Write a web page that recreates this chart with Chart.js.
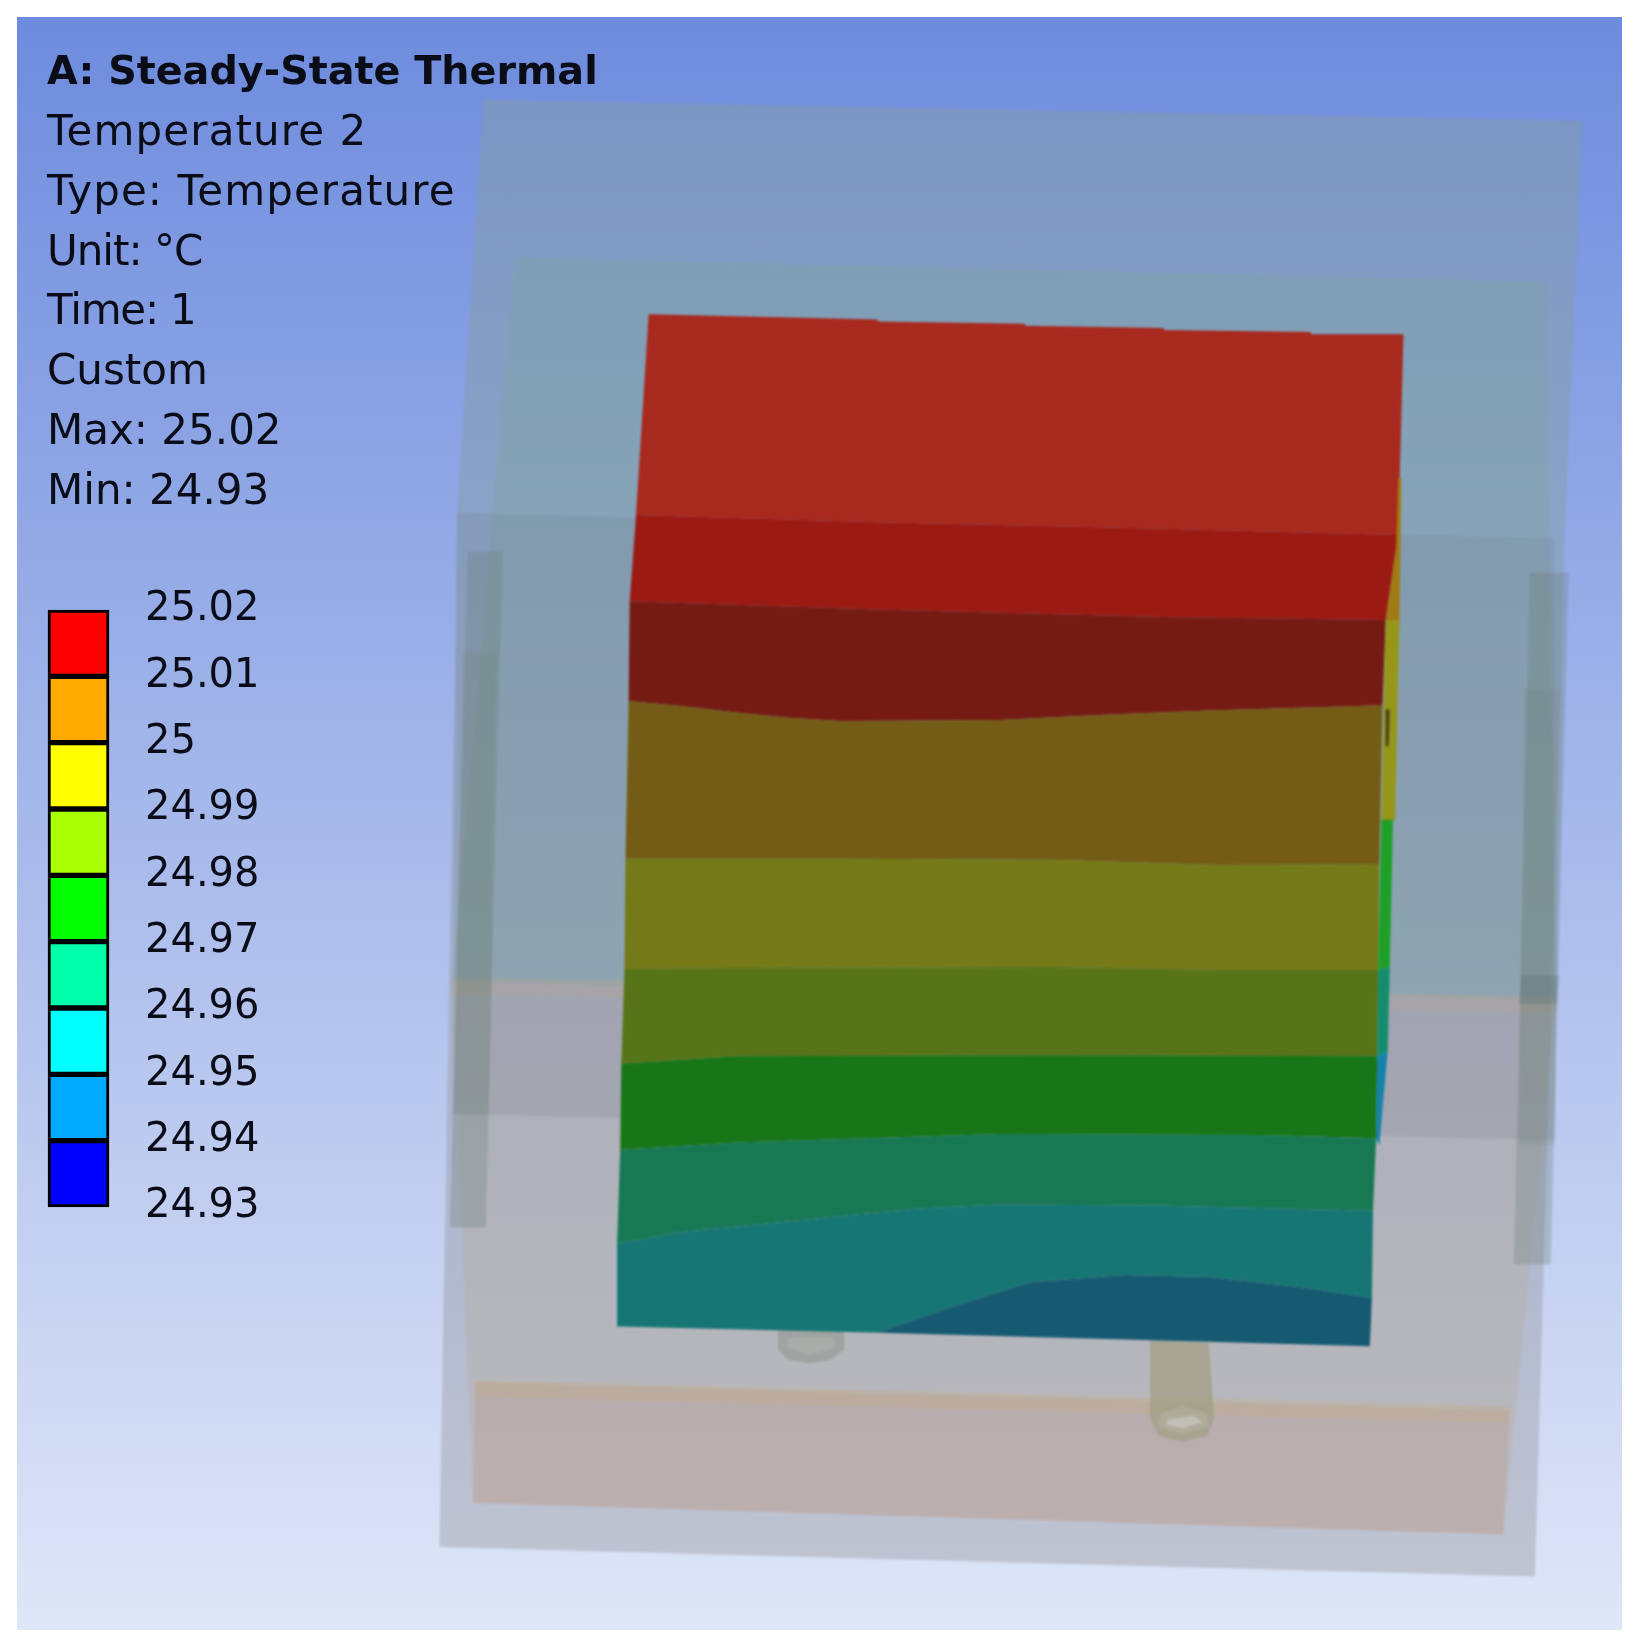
<!DOCTYPE html>
<html>
<head>
<meta charset="utf-8">
<style>
  html, body { margin: 0; padding: 0; background: #fff; }
  #page { position: relative; width: 1640px; height: 1648px; overflow: hidden; }
  #view { position: absolute; left: 17px; top: 17px; width: 1605px; height: 1613px;
          background: linear-gradient(to bottom, #6e8cde, #dfe6f7); }
  #model { position: absolute; left: 0; top: 0; filter: blur(1px); }
  #legendBar { position: absolute; left: 45px; top: 558px; filter: blur(.5px); }
  #info { position: absolute; left: 47px; top: 40px; margin: 0; color: #0a0d18; filter: blur(.5px);
          font: 42px/59.8px "DejaVu Sans", sans-serif; white-space: pre; }
  #info b { font-size: 39.7px; line-height: 61px; }
  #info span { display: block; }
</style>
</head>
<body>
<div id="page">
  <div id="view"></div>
  <canvas id="model" width="1640" height="1648"></canvas>
  <canvas id="legendBar" width="294" height="701"></canvas>
  <div id="info"></div>
</div>
<script src="https://cdn.jsdelivr.net/npm/chart.js@4"></script>
<script>
var titleLine = 'A: Steady-State Thermal';
var infoLines = ['Temperature 2', 'Type: Temperature', 'Unit: °C', 'Time: 1', 'Custom', 'Max: 25.02', 'Min: 24.93'];
var infoSpacing = [1.1, 1.1, -1, -1.2, 0, 0, 0];

// legend, top to bottom
var tickValues = [25.02, 25.01, 25, 24.99, 24.98, 24.97, 24.96, 24.95, 24.94, 24.93];
var legendColors = ['#ff0000', '#ffaa00', '#ffff00', '#aaff00', '#00ff00', '#00ffaa', '#00ffff', '#00aaff', '#0000ff'];

// translucent housing, back to front
var outerBox = [[460,95],[1505,115],[1488,515],[1460,1500],[418,1472],[435,488]];
var upperTint = [[460,95],[1505,115],[1488,515],[1482,948],[430,930],[435,488]];
var innerBox = [[490,245],[1470,268],[1480,950],[430,935]];
var midBand = [[435,488],[1478,512],[1480,1085],[430,1060]];
var lowerBox = [[430,935],[1480,950],[1430,1460],[450,1430]];
var basePlate = [[452,1315],[1436,1342],[1430,1460],[450,1430]];
var baseEdge = [[452,1313],[1436,1338],[1436,1354],[452,1329]];
var midEdge = [[430,930],[1482,948],[1482,964],[430,946]];
var railLeft = [[445,525],[478,525],[462,1168],[428,1168]];
var railRight = [[1455,545],[1492,545],[1475,1203],[1440,1203]];
var railLeftInner = [[440,620],[472,620],[465,1060],[432,1060]];
var railRightInner = [[1450,655],[1485,655],[1478,1090],[1445,1090]];
var railRightDark = [[1447,928],[1483,928],[1481,955],[1445,955]];

// pins under the plate
var pinLeft = [[740,1262],[803,1262],[803,1284],[790,1294],[770,1297],[750,1294],[740,1284]];
var pinLeftEnd = [[750,1272],[792,1272],[795,1282],[770,1289],[748,1282]];
var pinRight = [[1094,1275],[1150,1278],[1155,1350],[1148,1366],[1125,1372],[1102,1366],[1094,1350]];
var pinRightEnd = [[1104,1345],[1125,1338],[1148,1345],[1150,1358],[1125,1364],[1102,1358]];
var pinRightGlint = [[1112,1350],[1135,1347],[1144,1353],[1125,1359],[1108,1355]];

// temperature contours across the plate
var contour0 = [[617,299],[835,304],[835,306],[975,308],[975,310],[1107,312],[1107,314],[1247,316],[1247,318],[1335,318]];
var contour1 = [[605,490],[835,497],[1107,503],[1330,509]];
var contour2 = [[599,572],[835,580],[1107,587],[1318,590]];
var contour3 = [[598,667],[650,672],[700,678],[750,683],[800,686],[950,685],[1050,680],[1150,676],[1315,671]];
var contour4 = [[595,817],[800,817],[1000,818],[1160,823],[1312,822]];
var contour5 = [[594,922],[700,921],[1000,920],[1160,923],[1311,923]];
var contour6 = [[591,1012],[700,1005],[1000,1004],[1310,1005]];
var contour7 = [[590,1094],[700,1087],[950,1079],[1200,1080],[1309,1083]];
var contour8 = [[587,1183],[650,1172],[720,1165],[800,1157],[870,1150],[950,1146],[1100,1147],[1306,1152]];
var contour9 = [[835,1268],[900,1245],[980,1220],[1070,1213],[1150,1215],[1240,1225],[1305,1235]];
var contourEnd = [[587,1262],[835,1268],[1303,1281]];
var plateColors = ['#a8291e', '#9c1a14', '#761a14', '#745c16', '#747a18', '#587418', '#187618', '#187854', '#167674', '#165a72'];

// thin side face of the plate
var sideOrange = [[1330,455],[1333,455],[1331,600],[1318,590],[1328,520]];
var sideOlive = [[1318,590],[1331,590],[1327,780],[1314,790]];
var sideGreen = [[1314,780],[1325,780],[1322,920],[1311,923]];
var sideTeal = [[1311,923],[1322,920],[1320,1000],[1310,1005]];
var sideBlue = [[1310,1005],[1320,1000],[1312,1090],[1309,1083]];
var sideMark = [[1318,675],[1322,675],[1321,710],[1318,710]];

function poly(verts, color) {
  return {
    data: verts.map(function(p) { return {x: p[0], y: p[1]}; }),
    showLine: true, fill: 'shape', backgroundColor: color,
    borderWidth: 0, pointRadius: 0, tension: 0
  };
}

// band between two contours, upper one left to right, lower one back
function band(top, bottom, color) {
  return poly(top.concat(bottom.slice().reverse()), color);
}

var modelSets = [
  poly(outerBox, 'rgba(150,150,155,0.4)'),
  poly(upperTint, 'rgba(70,190,190,0.1)'),
  poly(innerBox, 'rgba(120,165,140,0.25)'),
  poly(lowerBox, 'rgba(180,165,130,0.25)'),
  poly(midBand, 'rgba(110,110,120,0.15)'),
  poly(basePlate, 'rgba(190,120,100,0.17)'),
  poly(baseEdge, 'rgba(200,170,120,0.25)'),
  poly(midEdge, 'rgba(190,165,120,0.2)'),
  poly(railLeft, 'rgba(110,125,115,0.3)'),
  poly(railRight, 'rgba(110,125,115,0.3)'),
  poly(railLeftInner, 'rgba(110,120,110,0.15)'),
  poly(railRightInner, 'rgba(110,120,110,0.15)'),
  poly(railRightDark, 'rgba(90,110,110,0.3)'),
  poly(pinLeft, 'rgba(150,155,150,0.7)'),
  poly(pinLeftEnd, 'rgba(185,190,185,0.35)'),
  poly(pinRight, 'rgba(160,158,130,0.7)'),
  poly(pinRightEnd, 'rgba(185,185,175,0.35)'),
  poly(pinRightGlint, 'rgba(215,215,210,0.45)'),
  band(contour0, contour1, plateColors[0]),
  band(contour1, contour2, plateColors[1]),
  band(contour2, contour3, plateColors[2]),
  band(contour3, contour4, plateColors[3]),
  band(contour4, contour5, plateColors[4]),
  band(contour5, contour6, plateColors[5]),
  band(contour6, contour7, plateColors[6]),
  band(contour7, contour8, plateColors[7]),
  band(contour8, [contourEnd[0], contourEnd[1]].concat(contour9.slice(1)), plateColors[8]),
  band(contour9, [contourEnd[1], contourEnd[2]], plateColors[9]),
  poly(sideOrange, '#a07a14'),
  poly(sideOlive, '#96961a'),
  poly(sideGreen, '#1ea028'),
  poly(sideTeal, '#148c6e'),
  poly(sideBlue, '#1482aa'),
  poly(sideMark, '#50441a')
];

// the filler paints the last dataset first
modelSets.reverse();

new Chart(document.getElementById('model').getContext('2d'), {
  type: 'scatter',
  data: { datasets: modelSets },
  options: {
    responsive: false, animation: false,
    layout: { padding: 0 },
    plugins: { legend: { display: false }, tooltip: { enabled: false } },
    scales: {
      x: { display: false, min: 0, max: 1560 },
      y: { display: false, min: 0, max: 1568, reverse: true }
    }
  }
});

new Chart(document.getElementById('legendBar').getContext('2d'), {
  type: 'bar',
  data: {
    labels: ['Temperature'],
    datasets: legendColors.map(function(c, i) {
      return {
        data: [[tickValues[i + 1], tickValues[i]]],
        backgroundColor: c, borderColor: '#000', borderWidth: 3,
        borderSkipped: false, grouped: false,
        barPercentage: 1, categoryPercentage: 1, clip: false
      };
    })
  },
  options: {
    responsive: false, animation: false,
    layout: { padding: { left: 3 } },
    plugins: { legend: { display: false }, tooltip: { enabled: false } },
    scales: {
      x: { display: false },
      y: {
        position: 'right', min: 24.93, max: 25.02,
        grid: { display: false }, border: { display: false },
        afterBuildTicks: function(axis) {
          axis.ticks = tickValues.map(function(v) { return {value: v}; });
        },
        afterFit: function(axis) { axis.width = 230; },
        ticks: {
          autoSkip: false, padding: 28, color: '#0a0d18',
          font: { family: 'DejaVu Sans', size: 40 },
          callback: function(v) { return String(+v.toFixed(2)); }
        }
      }
    }
  }
});

var info = document.getElementById('info');
var boldLine = document.createElement('b');
boldLine.textContent = titleLine;
boldLine.style.display = 'block';
info.appendChild(boldLine);
infoLines.forEach(function(text, i) {
  var row = document.createElement('span');
  row.textContent = text;
  row.style.letterSpacing = infoSpacing[i] + 'px';
  info.appendChild(row);
});
</script>
</body>
</html>
